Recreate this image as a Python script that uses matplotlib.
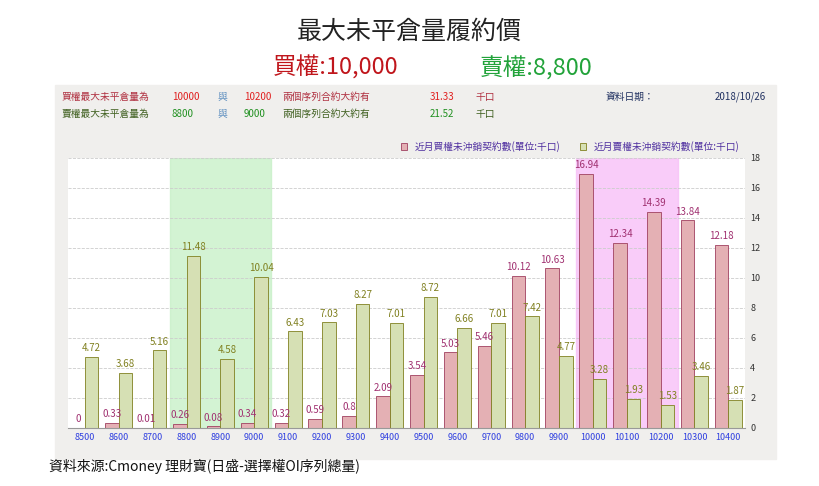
import matplotlib.pyplot as plt
from matplotlib import font_manager
import numpy as np

names = {f.name for f in font_manager.fontManager.ttflist}
cjk = next((n for n in ['Noto Sans CJK TC', 'Noto Sans CJK JP', 'Noto Sans CJK SC'] if n in names), 'DejaVu Sans')
plt.rcParams['font.family'] = [cjk]

strikes = ['8500', '8600', '8700', '8800', '8900', '9000', '9100', '9200', '9300', '9400',
           '9500', '9600', '9700', '9800', '9900', '10000', '10100', '10200', '10300', '10400']
calls = [0, 0.33, 0.01, 0.26, 0.08, 0.34, 0.32, 0.59, 0.8, 2.09,
         3.54, 5.03, 5.46, 10.12, 10.63, 16.94, 12.34, 14.39, 13.84, 12.18]
puts = [4.72, 3.68, 5.16, 11.48, 4.58, 10.04, 6.43, 7.03, 8.27, 7.01,
        8.72, 6.66, 7.01, 7.42, 4.77, 3.28, 1.93, 1.53, 3.46, 1.87]

fig = plt.figure(figsize=(8.19, 4.86), dpi=100)

# titles
fig.text(0.5, 0.935, '最大未平倉量履約價', ha='center', va='center', fontsize=18, color='#222222')
fig.text(0.41, 0.86, '買權:10,000', ha='center', va='center', fontsize=17, color='#c0161c')
fig.text(0.655, 0.86, '賣權:8,800', ha='center', va='center', fontsize=17, color='#22a33a')

# gray panel
panel = plt.Rectangle((0.067, 0.055), 0.88, 0.77, transform=fig.transFigure,
                      color='#f0efed', zorder=-5)
fig.patches.append(panel)

fs = 7
y1, y2 = 0.8, 0.765
fig.text(0.075, y1, '買權最大未平倉量為', fontsize=fs, color='#b03040', va='center')
fig.text(0.21, y1, '10000', fontsize=fs, color='#e02020', va='center')
fig.text(0.265, y1, '與', fontsize=fs, color='#6090c0', va='center')
fig.text(0.298, y1, '10200', fontsize=fs, color='#e02020', va='center')
fig.text(0.345, y1, '兩個序列合約大約有', fontsize=fs, color='#b03040', va='center')
fig.text(0.525, y1, '31.33', fontsize=fs, color='#e02020', va='center')
fig.text(0.58, y1, '千口', fontsize=fs, color='#b03040', va='center')
fig.text(0.74, y1, '資料日期：', fontsize=fs, color='#203060', va='center')
fig.text(0.935, y1, '2018/10/26', fontsize=fs, color='#203060', va='center', ha='right')
fig.text(0.075, y2, '賣權最大未平倉量為', fontsize=fs, color='#406020', va='center')
fig.text(0.21, y2, '8800', fontsize=fs, color='#209020', va='center')
fig.text(0.265, y2, '與', fontsize=fs, color='#6090c0', va='center')
fig.text(0.298, y2, '9000', fontsize=fs, color='#209020', va='center')
fig.text(0.345, y2, '兩個序列合約大約有', fontsize=fs, color='#406020', va='center')
fig.text(0.525, y2, '21.52', fontsize=fs, color='#209020', va='center')
fig.text(0.58, y2, '千口', fontsize=fs, color='#406020', va='center')

ax = fig.add_axes([0.083, 0.12, 0.827, 0.555], zorder=2)
ax.set_facecolor('white')
x = np.arange(len(strikes))
w = 0.4
ax.axvspan(2.5, 5.5, color='#c8f0c8', alpha=0.8, zorder=0)
ax.axvspan(14.5, 17.5, color='#f8c0f8', alpha=0.8, zorder=0)
ax.bar(x - w / 2, calls, w, color='#e4b0b4', edgecolor='#a04060', linewidth=0.6, zorder=2,
       label='近月買權未沖銷契約數(單位:千口)')
ax.bar(x + w / 2, puts, w, color='#d6e0b4', edgecolor='#808020', linewidth=0.6, zorder=2,
       label='近月賣權未沖銷契約數(單位:千口)')
for i in range(len(strikes)):
    ax.text(x[i] - w / 2, calls[i] + 0.25, f'{calls[i]:g}', ha='center', va='bottom',
            fontsize=7, color='#a03070', zorder=3)
    ax.text(x[i] + w / 2, puts[i] + 0.25, f'{puts[i]:g}', ha='center', va='bottom',
            fontsize=7, color='#808020', zorder=3)
ax.set_xlim(-0.5, len(strikes) - 0.5)
ax.set_ylim(0, 18)
ax.set_yticks(range(0, 19, 2))
ax.yaxis.tick_right()
ax.tick_params(axis='y', labelsize=6.5, length=0, colors='#333333')
ax.set_xticks(x)
ax.set_xticklabels(strikes)
ax.tick_params(axis='x', labelsize=6.5, length=0, colors='#3040e0')
ax.grid(axis='y', color='#cccccc', linestyle='--', linewidth=0.6, zorder=1)
ax.set_axisbelow(True)
for s in ['top', 'right', 'left']:
    ax.spines[s].set_visible(False)
ax.spines['bottom'].set_color('#999999')
ax.legend(loc='lower right', bbox_to_anchor=(1.0, 1.0), ncol=2, fontsize=7, frameon=False,
          handlelength=0.6, handleheight=0.6, labelcolor=['#5030a0', '#5030a0'], borderaxespad=0.2)

fig.text(0.06, 0.04, '資料來源:Cmoney 理財寶(日盛-選擇權OI序列總量)', fontsize=10, color='#111111', va='center')

fig.savefig('out.png', dpi=100)
